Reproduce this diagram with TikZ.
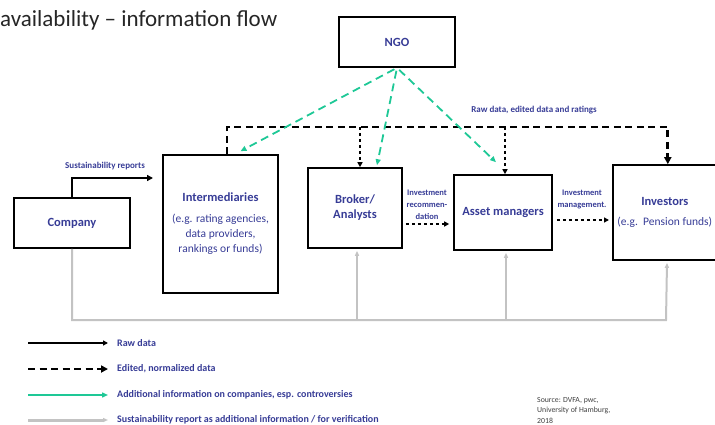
\documentclass[tikz,border=0pt]{standalone}
\usepackage{fontspec}
\setmainfont{Carlito}
\usetikzlibrary{positioning,arrows.meta}
\definecolor{lbl}{RGB}{55,60,150}
\definecolor{ngogreen}{RGB}{30,200,150}
\definecolor{rptgrey}{RGB}{195,195,195}
\newcommand{\subtxt}{\fontsize{11.5}{16}\selectfont\mdseries}

\begin{document}
\begin{tikzpicture}[
      x=1pt, y=-1pt,
      every node/.style={text=lbl},
      box/.style={draw=black, line width=1.6pt, inner sep=0pt, align=center, font=\fontsize{12.5}{15}\selectfont\bfseries},
      small/.style={font=\fontsize{9}{11}\selectfont\bfseries, inner sep=0pt, align=center},
      tiny/.style={font=\fontsize{8.5}{12}\selectfont\bfseries, inner sep=0pt, align=center},
      legend/.style={font=\fontsize{10}{12}\selectfont\bfseries, inner sep=0pt, anchor=west},
      raw/.style={-{Triangle[length=6pt,width=6pt]}, line width=1.6pt},
      edited/.style={-{Triangle[length=7pt,width=7pt]}, line width=2.8pt, dash pattern=on 7pt off 4.5pt},
      dotted arrow/.style={-{Triangle[length=5pt,width=5pt]}, line width=1.8pt, dash pattern=on 3pt off 3pt},
      info/.style={-{Triangle[length=6pt,width=5pt]}, line width=1.8pt, draw=ngogreen, dash pattern=on 8pt off 5pt},
      report/.style={-{Triangle[length=5pt,width=4pt]}, line width=2pt, draw=rptgrey},
    ]
    \useasboundingbox (0,0) rectangle (715,425);
    \clip (0,0) rectangle (715,425);

    % Title
    \node[anchor=base west, inner sep=0pt, text=black!85, font=\fontsize{23}{27}\selectfont] (title) at (0,27) {availability -- information flow};

    % Actors
    \node[box, minimum width=116pt, minimum height=50pt] (ngo) at (397,42) {NGO};
    \node[box, minimum width=116pt, minimum height=50pt] (company) at (72,223) {Company};
    \node[box, minimum width=115pt, minimum height=138pt] (interm) at (220.5,224)
      {Intermediaries\\[6pt]\subtxt (e.g. rating agencies,\\ \subtxt data providers,\\ \subtxt rankings or funds)};
    \node[box, minimum width=110pt, minimum height=95pt, anchor=west] (inv) at (612,212.5)
      {\hspace*{-6pt}Investors\\[5pt]\subtxt\hspace*{-6pt}(e.g.~~Pension funds)};
    \node[box, minimum width=94pt, minimum height=80pt] (broker) at (355,208) {Broker/\\Analysts};
    \node[box, minimum width=98pt, minimum height=75pt] (asset) at (503,212.5) {Asset managers};

    % Raw data
    \coordinate (srend) at (153,178);
    \draw[raw] (company.north) |- (srend);
    \node[small] (srlbl) at (105,166) {Sustainability reports};

    % Edited data bus
    \coordinate (bus) at (0,127);
    \draw[edited] ([xshift=6.5pt]interm.north) |- (bus -| inv.north) -- (inv.north);
    \draw[dotted arrow] (bus -| 360,0) -- ([xshift=5pt]broker.north);
    \draw[dotted arrow] (bus -| 505,0) -- ([xshift=2pt]asset.north);
    \node[small] (buslbl) at (534,110) {Raw data, edited data and ratings};

    % Investment flow
    \draw[dotted arrow] ([xshift=3pt]broker.east |- 0,224) -- ([xshift=-4pt]asset.west |- 0,224);
    \draw[dotted arrow] ([xshift=4pt]asset.east |- 0,220) -- ([xshift=-3pt]inv.west |- 0,220);
    \node[tiny] (reclbl) at (427,205) {Investment\\recommen-\\dation};
    \node[tiny] (mgmtlbl) at (582,199) {Investment\\management.};

    % NGO information
    \draw[info, shorten <=3pt] (ngo.south) -- ([xshift=20pt, yshift=3pt]interm.north);
    \draw[info, shorten <=3pt] (ngo.south) -- ([xshift=22pt, yshift=2pt]broker.north);
    \draw[info, shorten <=3pt] (ngo.south) -- ([xshift=-7pt, yshift=12pt]asset.north);

    % Sustainability report for verification
    \coordinate (gbus) at (0,320);
    \draw[report] (company.south) |- (gbus -| 666,0) -- ([xshift=1pt, yshift=-2pt]inv.south -| 666,0);
    \draw[report] (gbus -| 357,0) -- ([yshift=-2pt]broker.south -| 357,0);
    \draw[report] (gbus -| 506,0) -- ([yshift=-2pt]asset.south -| 506,0);

    % Legend
    \node[legend] (lgraw) at (117,343) {Raw data};
    \node[legend] (lgedit) at (117,369) {Edited, normalized data};
    \node[legend] (lginfo) at (117,395) {Additional information on companies, esp. controversies};
    \node[legend] (lgrep) at (117,420) {Sustainability report as additional information / for verification};
    \draw[raw, line width=1.2pt, -{Triangle[length=5pt,width=5pt]}] ([xshift=-89pt]lgraw.west) -- ([xshift=-9pt]lgraw.west);
    \draw[edited] ([xshift=-89pt]lgedit.west) -- ([xshift=-9pt]lgedit.west);
    \draw[info, solid, line width=1.4pt] ([xshift=-89pt]lginfo.west) -- ([xshift=-9pt]lginfo.west);
    \draw[report, line width=3pt] ([xshift=-89pt]lgrep.west) -- ([xshift=-9pt]lgrep.west);

    % Source
    \node[anchor=north west, align=left, inner sep=0pt, text=black!75, font=\fontsize{7.8}{10.5}\selectfont] (src) at (537,397)
      {Source: DVFA, pwc,\\University of Hamburg,\\2018};
  \end{tikzpicture}
\end{document}
